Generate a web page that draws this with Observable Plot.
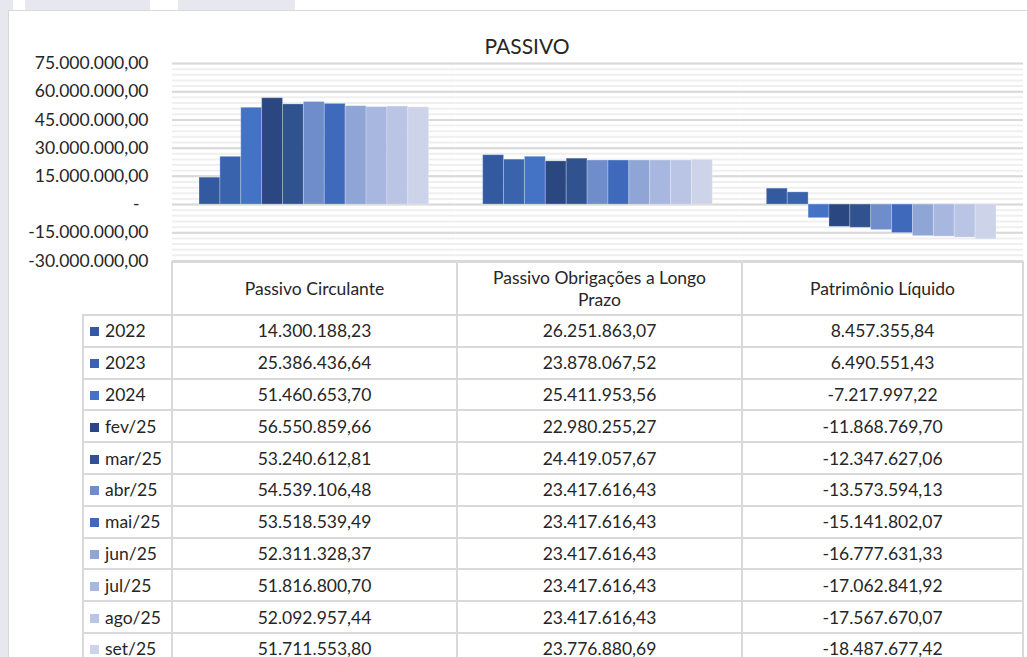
<!DOCTYPE html>
<html>
<head>
<meta charset="utf-8">
<script src="https://cdn.jsdelivr.net/npm/d3@7"></script>
<script src="https://cdn.jsdelivr.net/npm/@observablehq/plot@0.6"></script>
<style>
  html, body { margin: 0; padding: 0; }
  body { width: 1027px; height: 657px; overflow: hidden; position: relative; background: #e7e7f0; font-family: Lato, "Open Sans", sans-serif; }
  .deco { position: absolute; background: #ffffff; }
  #panel { position: absolute; left: 8px; top: 10px; width: 1040px; height: 670px; background: #fff; border: 1px solid #d9d9d9; box-sizing: border-box; }
  #title { position: absolute; left: 427px; width: 200px; top: 33px; text-align: center; font-size: 21px; color: #262626; }
  #chart { position: absolute; left: 0; top: 0; }
  #tbl { position: absolute; left: 82px; top: 261px; border-collapse: collapse; table-layout: fixed; font-size: 17.5px; color: #262626; }
  #tbl td { border: 2px solid #d9d9d9; text-align: center; padding: 0; white-space: nowrap; }
  #tbl td.corner { border-top-style: hidden; border-left-style: hidden; }
  #tbl td.hdr { white-space: normal; line-height: 22px; }
  #tbl td.leg { text-align: left; padding-left: 6px; }
  .sw { display: inline-block; width: 9px; height: 9px; margin-right: 6px; vertical-align: 1px; }
</style>
</head>
<body>
<div class="deco" style="left:13px;top:0;width:12px;height:10px;"></div>
<div class="deco" style="left:150px;top:0;width:28px;height:10px;"></div>
<div class="deco" style="left:295px;top:0;width:740px;height:10px;"></div>
<div id="panel"></div>
<div id="title">PASSIVO</div>
<div id="chart"></div>
<table id="tbl"></table>
<script>
const categories = ["Passivo Circulante", "Passivo Obrigações a Longo Prazo", "Patrimônio Líquido"];
const periods = ["2022", "2023", "2024", "fev/25", "mar/25", "abr/25", "mai/25", "jun/25", "jul/25", "ago/25", "set/25"];
const passivoCirculante = [14300188.23, 25386436.64, 51460653.70, 56550859.66, 53240612.81, 54539106.48, 53518539.49, 52311328.37, 51816800.70, 52092957.44, 51711553.80];
const passivoLongoPrazo = [26251863.07, 23878067.52, 25411953.56, 22980255.27, 24419057.67, 23417616.43, 23417616.43, 23417616.43, 23417616.43, 23417616.43, 23776880.69];
const patrimonioLiquido = [8457355.84, 6490551.43, -7217997.22, -11868769.70, -12347627.06, -13573594.13, -15141802.07, -16777631.33, -17062841.92, -17567670.07, -18487677.42];
const seriesColors = ["#335aa1", "#3a63ae", "#4472c4", "#2a4781", "#30528f", "#6f8ccb", "#3f6abb", "#8fa5d5", "#a8b7df", "#bac5e5", "#cdd4ea"];
const yTicks = [-30000000, -15000000, 0, 15000000, 30000000, 45000000, 60000000, 75000000];
const yMinorTicks = d3.range(-30000000, 75000001, 3000000);

const seriesByCategory = [passivoCirculante, passivoLongoPrazo, patrimonioLiquido];
const data = categories.flatMap((c, ci) => periods.map((p, pi) => ({category: c, period: p, value: seriesByCategory[ci][pi]})));

const loc = d3.formatLocale({decimal: ",", thousands: ".", grouping: [3], currency: ["", ""], minus: "-"});
const fmt = loc.format(",.2f");
const axisFmt = v => v === 0 ? "-\u00a0\u00a0" : fmt(v);

const chart = Plot.plot({
  width: 1027,
  height: 262,
  marginLeft: 172,
  marginRight: 4,
  marginTop: 63,
  marginBottom: 1.5,
  style: {fontFamily: "Lato, 'Open Sans', sans-serif", fontSize: "17.5px", color: "#262626", background: "transparent", overflow: "visible"},
  y: {domain: [-30000000, 75000000], ticks: yTicks, tickFormat: axisFmt, tickSize: 0, tickPadding: 24, label: null},
  fx: {domain: categories, padding: 0, round: false, axis: null, label: null},
  x: {domain: periods, paddingInner: 0, paddingOuter: 1.294, round: false, axis: null, label: null},
  color: {domain: periods, range: seriesColors},
  marks: [
    Plot.ruleY(yMinorTicks, {stroke: "#efefef", strokeWidth: 2}),
    Plot.ruleY(yTicks, {stroke: "#d9d9d9", strokeWidth: 2}),
    Plot.barY(data, {fx: "category", x: "period", y: "value", fill: "period", stroke: "#ffffff", strokeOpacity: 0.25, strokeWidth: 1})
  ]
});
document.getElementById("chart").appendChild(chart);

// data table
const tbl = document.getElementById("tbl");
const colWidths = [89, 285, 285, 281];
const cg = document.createElement("colgroup");
colWidths.forEach(w => { const c = document.createElement("col"); c.style.width = w + "px"; cg.appendChild(c); });
tbl.appendChild(cg);
const hr = document.createElement("tr");
hr.style.height = "53px";
const corner = document.createElement("td"); corner.className = "corner"; hr.appendChild(corner);
categories.forEach((c, i) => {
  const td = document.createElement("td"); td.className = "hdr";
  td.textContent = c;
  if (i === 1) td.style.padding = "0 30px";
  hr.appendChild(td);
});
tbl.appendChild(hr);
periods.forEach((p, pi) => {
  const tr = document.createElement("tr");
  tr.style.height = "31.8px";
  const lg = document.createElement("td"); lg.className = "leg";
  const sw = document.createElement("span"); sw.className = "sw"; sw.style.background = seriesColors[pi];
  lg.appendChild(sw); lg.appendChild(document.createTextNode(p));
  tr.appendChild(lg);
  seriesByCategory.forEach(s => { const td = document.createElement("td"); td.textContent = fmt(s[pi]); tr.appendChild(td); });
  tbl.appendChild(tr);
});
</script>
</body>
</html>
